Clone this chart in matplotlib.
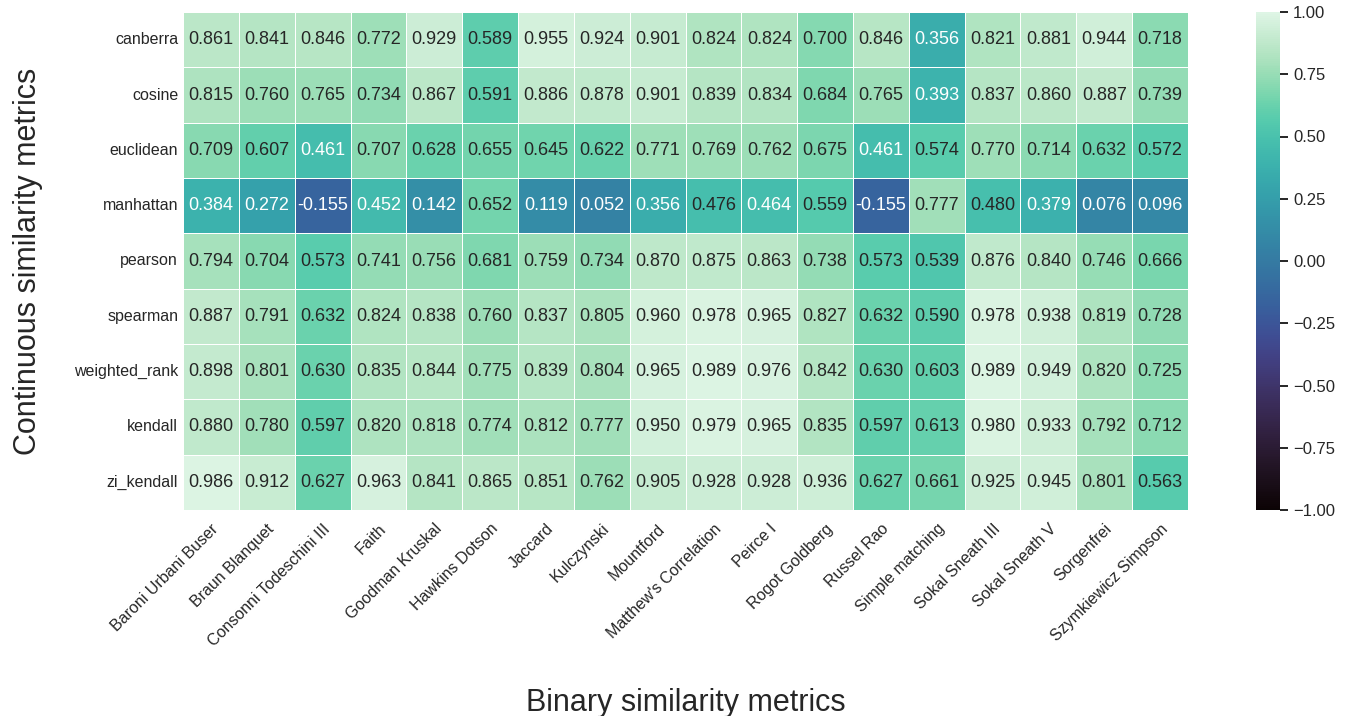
import numpy as np
import matplotlib
matplotlib.use('Agg')
import matplotlib.pyplot as plt
import matplotlib.ticker as mticker
import seaborn as sns

sns.set_theme(style='white')
plt.rcParams['font.family'] = ['Liberation Sans', 'DejaVu Sans']
plt.rcParams['text.color'] = '#262626'
plt.rcParams['axes.labelcolor'] = '#262626'
plt.rcParams['xtick.color'] = '#262626'
plt.rcParams['ytick.color'] = '#262626'

binary_metrics = ['Baroni Urbani Buser', 'Braun Blanquet', 'Consonni Todeschini III',
                  'Faith', 'Goodman Kruskal', 'Hawkins Dotson', 'Jaccard', 'Kulczynski',
                  'Mountford', "Matthew's Correlation", 'Peirce I', 'Rogot Goldberg',
                  'Russel Rao', 'Simple matching', 'Sokal Sneath III', 'Sokal Sneath V',
                  'Sorgenfrei', 'Szymkiewicz Simpson']
continuous_metrics = ['canberra', 'cosine', 'euclidean', 'manhattan', 'pearson',
                      'spearman', 'weighted_rank', 'kendall', 'zi_kendall']

canberra = [0.861, 0.841, 0.846, 0.772, 0.929, 0.589, 0.955, 0.924, 0.901,
            0.824, 0.824, 0.700, 0.846, 0.356, 0.821, 0.881, 0.944, 0.718]
cosine = [0.815, 0.760, 0.765, 0.734, 0.867, 0.591, 0.886, 0.878, 0.901,
          0.839, 0.834, 0.684, 0.765, 0.393, 0.837, 0.860, 0.887, 0.739]
euclidean = [0.709, 0.607, 0.461, 0.707, 0.628, 0.655, 0.645, 0.622, 0.771,
             0.769, 0.762, 0.675, 0.461, 0.574, 0.770, 0.714, 0.632, 0.572]
manhattan = [0.384, 0.272, -0.155, 0.452, 0.142, 0.652, 0.119, 0.052, 0.356,
             0.476, 0.464, 0.559, -0.155, 0.777, 0.480, 0.379, 0.076, 0.096]
pearson = [0.794, 0.704, 0.573, 0.741, 0.756, 0.681, 0.759, 0.734, 0.870,
           0.875, 0.863, 0.738, 0.573, 0.539, 0.876, 0.840, 0.746, 0.666]
spearman = [0.887, 0.791, 0.632, 0.824, 0.838, 0.760, 0.837, 0.805, 0.960,
            0.978, 0.965, 0.827, 0.632, 0.590, 0.978, 0.938, 0.819, 0.728]
weighted_rank = [0.898, 0.801, 0.630, 0.835, 0.844, 0.775, 0.839, 0.804, 0.965,
                 0.989, 0.976, 0.842, 0.630, 0.603, 0.989, 0.949, 0.820, 0.725]
kendall = [0.880, 0.780, 0.597, 0.820, 0.818, 0.774, 0.812, 0.777, 0.950,
           0.979, 0.965, 0.835, 0.597, 0.613, 0.980, 0.933, 0.792, 0.712]
zi_kendall = [0.986, 0.912, 0.627, 0.963, 0.841, 0.865, 0.851, 0.762, 0.905,
              0.928, 0.928, 0.936, 0.627, 0.661, 0.925, 0.945, 0.801, 0.563]

corr = np.array([canberra, cosine, euclidean, manhattan, pearson,
                 spearman, weighted_rank, kendall, zi_kendall])

W, H = 1348, 716
fig = plt.figure(figsize=(W / 100, H / 100), dpi=100)
ax = fig.add_axes([183 / W, 1 - 510 / H, 1005 / W, 498 / H])
cax = fig.add_axes([1256 / W, 1 - 510 / H, 24 / W, 498 / H])

sns.heatmap(corr, ax=ax, cbar_ax=cax, cmap='mako', vmin=-1, vmax=1,
            annot=True, fmt='.3f', annot_kws={'fontsize': 13},
            linewidths=0.5, linecolor='white',
            xticklabels=binary_metrics, yticklabels=continuous_metrics)

ax.tick_params(axis='both', length=0, labelsize=11.5)
ax.tick_params(axis='x', pad=8)
plt.setp(ax.get_xticklabels(), rotation=45, ha='right', rotation_mode='anchor')
plt.setp(ax.get_yticklabels(), rotation=0)
ax.set_xlabel('Binary similarity metrics', fontsize=22, labelpad=28)
ax.set_ylabel('Continuous similarity metrics', fontsize=22, labelpad=22)

# colorbar ticks every 0.25 with unicode minus
cax.set_yticks(np.arange(-1, 1.01, 0.25))
cax.tick_params(axis='y', length=6, width=1.4, labelsize=12, right=True)
cax.yaxis.set_major_formatter(mticker.FuncFormatter(
    lambda v, p: ('%.2f' % v).replace('-', '\u2212')))

plt.savefig('out.png', dpi=100)
plt.close()
